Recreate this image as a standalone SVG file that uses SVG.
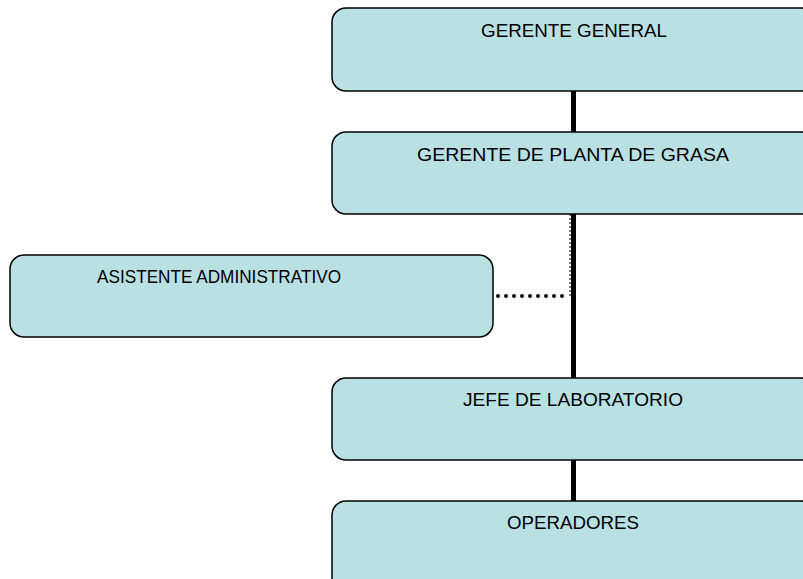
<svg xmlns="http://www.w3.org/2000/svg" width="803" height="579" viewBox="0 0 803 579">
<style>
.box{fill:#b9e0e3;stroke:#000;stroke-width:1.5}
.t{font-family:"Liberation Sans","Open Sans",sans-serif;font-size:17.5px;fill:#000;text-anchor:middle}
.solid{stroke:#000;stroke-width:5;fill:none}
.dot{stroke:#000;stroke-width:4;stroke-linecap:round;stroke-dasharray:0 8;fill:none}
.thin{stroke:#000;stroke-width:1;stroke-dasharray:2 2;fill:none}
</style>
<rect width="803" height="579" fill="#fff"/>
<g id="connectors">
<line class="solid" x1="573.5" y1="91" x2="573.5" y2="132"/>
<line class="solid" x1="573.5" y1="214" x2="573.5" y2="378"/>
<line class="thin" x1="570" y1="214" x2="570" y2="296"/>
<line class="solid" x1="573.5" y1="460" x2="573.5" y2="501"/>
<line class="dot" x1="498" y1="296" x2="569" y2="296"/>
</g>
<g id="gerente-general">
<rect class="box" x="332" y="8" width="483" height="83" rx="14"/>
<text class="t" x="574" y="37" textLength="186" lengthAdjust="spacingAndGlyphs">GERENTE GENERAL</text>
</g>
<g id="gerente-planta">
<rect class="box" x="332" y="132" width="483" height="82" rx="14"/>
<text class="t" x="573" y="161" textLength="312" lengthAdjust="spacingAndGlyphs">GERENTE DE PLANTA DE GRASA</text>
</g>
<g id="asistente">
<rect class="box" x="10" y="255" width="483" height="82" rx="14"/>
<text class="t" x="219" y="283" font-size="16.5" textLength="244" lengthAdjust="spacingAndGlyphs">ASISTENTE ADMINISTRATIVO</text>
</g>
<g id="jefe-laboratorio">
<rect class="box" x="332" y="378" width="483" height="82" rx="14"/>
<text class="t" x="573" y="406" textLength="220" lengthAdjust="spacingAndGlyphs">JEFE DE LABORATORIO</text>
</g>
<g id="operadores">
<rect class="box" x="332" y="501" width="483" height="100" rx="14"/>
<text class="t" x="573" y="529" textLength="132" lengthAdjust="spacingAndGlyphs">OPERADORES</text>
</g>
</svg>
